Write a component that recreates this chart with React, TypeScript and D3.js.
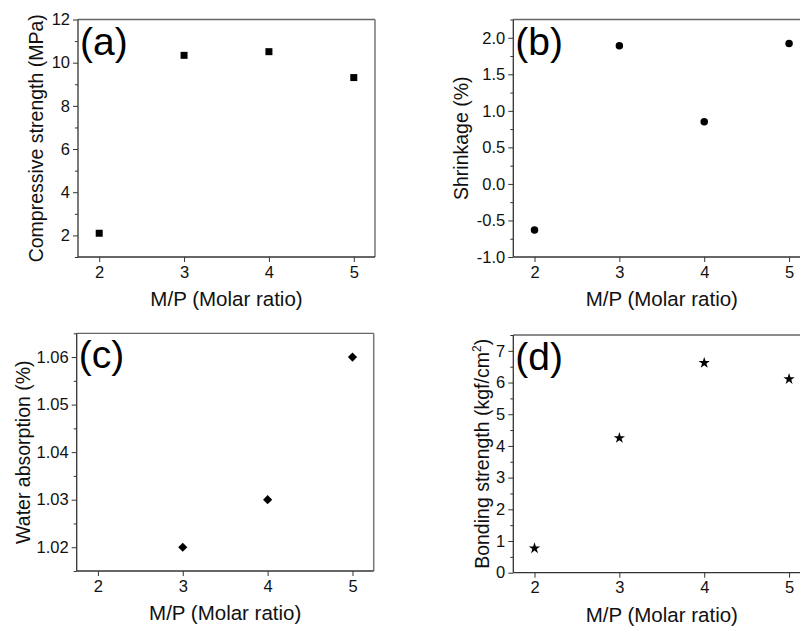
import React, { useEffect, useRef } from "react";
import * as d3 from "d3";

// M/P molar ratios on the x axis
const ratios = [2, 3, 4, 5];
const xTickLabels = ["2", "3", "4", "5"];

// (a) compressive strength, MPa
const compressive = [2.1, 10.34, 10.51, 9.31];
// (b) shrinkage, %
const shrinkage = [-0.63, 1.89, 0.85, 1.92];
// (c) water absorption, % (no sample at ratio 2)
const waterRatios = [3, 4, 5];
const waterAbsorption = [1.02, 1.03, 1.06];
// (d) bonding strength, kgf/cm2
const bonding = [0.77, 4.25, 6.62, 6.11];

const FONT = "'Liberation Sans', Arial, sans-serif";

// Origin prints a plain hyphen for negatives
const fmtWith = (spec) => {
  const f = d3.format(spec);
  return (d) => f(d).replace("\u2212", "-");
};

const App = () => {
  const ref = useRef(null);

  useEffect(() => {
    const svg = d3.select(ref.current);
    svg.selectAll("*").remove();

    const panels = [
      {
        tag: "(a)", left: 78, top: 19.5, bottom: 257, labelX: 43,
        xs: ratios, ys: compressive, yDomain: [1, 12],
        major: d3.range(2, 12.01, 2), minor: d3.range(1, 12, 2), fmt: fmtWith("d"),
        symbol: d3.symbolSquare, size: 49, rotate: 0,
        yLabel: ["Compressive strength (MPa)"],
      },
      {
        tag: "(b)", left: 513.3, top: 19.5, bottom: 257, labelX: 468,
        xs: ratios, ys: shrinkage, yDomain: [-1, 2.25],
        major: d3.range(-1, 2.01, 0.5), minor: d3.range(-0.75, 2.3, 0.5), fmt: fmtWith(".1f"),
        symbol: d3.symbolCircle, size: 44, rotate: 0,
        yLabel: ["Shrinkage (%)"],
      },
      {
        tag: "(c)", left: 76.7, top: 333.3, bottom: 571, labelX: 30,
        xs: waterRatios, ys: waterAbsorption, yDomain: [1.015, 1.065],
        major: d3.range(1.02, 1.0601, 0.01), minor: d3.range(1.015, 1.066, 0.01), fmt: fmtWith(".2f"),
        symbol: d3.symbolSquare, size: 42, rotate: 45,
        yLabel: ["Water absorption (%)"],
      },
      {
        tag: "(d)", left: 513.3, top: 335, bottom: 572.7, labelX: 489,
        xs: ratios, ys: bonding, yDomain: [0, 7.5],
        major: d3.range(0, 7.01, 1), minor: d3.range(0.5, 7.6, 1), fmt: fmtWith("d"),
        symbol: d3.symbolStar, size: 40, rotate: 0,
        yLabel: ["Bonding strength (kgf/cm", "2", ")"],
      },
    ];

    panels.forEach((p) => {
      const width = 297;
      const right = p.left + width;
      const x = d3.scaleLinear().domain([1.75, 5.25]).range([p.left, right]);
      const y = d3.scaleLinear().domain(p.yDomain).range([p.bottom, p.top]);
      const g = svg.append("g");

      // minor y ticks
      g.append("g")
        .attr("transform", `translate(${p.left},0)`)
        .call(d3.axisLeft(y).tickValues(p.minor).tickSize(3).tickSizeOuter(0).tickFormat(() => ""))
        .call((a) => a.select(".domain").remove())
        .selectAll("line").attr("stroke", "#333");

      // major y ticks
      const ya = g.append("g")
        .attr("transform", `translate(${p.left},0)`)
        .call(d3.axisLeft(y).tickValues(p.major).tickSize(5).tickPadding(3).tickSizeOuter(0).tickFormat(p.fmt));
      ya.select(".domain").remove();
      ya.selectAll("line").attr("stroke", "#333");
      ya.selectAll("text").attr("font-family", FONT).attr("font-size", 16.5).attr("fill", "#111");

      // x ticks
      const xa = g.append("g")
        .attr("transform", `translate(0,${p.bottom})`)
        .call(d3.axisBottom(x).tickValues(ratios).tickSize(5).tickPadding(4).tickSizeOuter(0)
          .tickFormat((d, i) => xTickLabels[i]));
      xa.select(".domain").remove();
      xa.selectAll("line").attr("stroke", "#333");
      xa.selectAll("text").attr("font-family", FONT).attr("font-size", 16.5).attr("fill", "#111");

      // frame
      g.append("line").attr("x1", p.left).attr("x2", right).attr("y1", p.top).attr("y2", p.top)
        .attr("stroke", "#666").attr("stroke-width", 1.3);
      g.append("line").attr("x1", right).attr("x2", right).attr("y1", p.top).attr("y2", p.bottom)
        .attr("stroke", "#777").attr("stroke-width", 1.5);
      g.append("line").attr("x1", p.left).attr("x2", p.left).attr("y1", p.top).attr("y2", p.bottom)
        .attr("stroke", "#333").attr("stroke-width", 1.3);
      g.append("line").attr("x1", p.left).attr("x2", right).attr("y1", p.bottom).attr("y2", p.bottom)
        .attr("stroke", "#333").attr("stroke-width", 1.3);

      // points
      const sym = d3.symbol().type(p.symbol).size(p.size);
      g.selectAll(".pt")
        .data(p.xs.map((v, i) => [v, p.ys[i]]))
        .enter()
        .append("path")
        .attr("class", "pt")
        .attr("d", sym)
        .attr("transform", (d) => `translate(${x(d[0])},${y(d[1])}) rotate(${p.rotate})`)
        .attr("fill", "#000");

      // panel tag
      g.append("text")
        .attr("x", p.left + 2)
        .attr("y", p.top + 35)
        .attr("font-family", FONT)
        .attr("font-size", 39)
        .attr("fill", "#000")
        .text(p.tag);

      // axis titles
      g.append("text")
        .attr("x", p.left + width / 2)
        .attr("y", p.bottom + 49)
        .attr("text-anchor", "middle")
        .attr("font-family", FONT)
        .attr("font-size", 20.5)
        .attr("fill", "#111")
        .text("M/P (Molar ratio)");

      const yt = g.append("text")
        .attr("transform", `translate(${p.labelX},${(p.top + p.bottom) / 2}) rotate(-90)`)
        .attr("text-anchor", "middle")
        .attr("font-family", FONT)
        .attr("font-size", 19.5)
        .attr("fill", "#111");
      yt.append("tspan").text(p.yLabel[0]);
      if (p.yLabel.length > 1) {
        yt.append("tspan").attr("font-size", 12).attr("dy", -8).text(p.yLabel[1]);
        yt.append("tspan").attr("dy", 8).text(p.yLabel[2]);
      }
    });
  }, []);

  return (
    <svg
      ref={ref}
      width={800}
      height={626}
      style={{ position: "absolute", left: 0, top: 0, background: "#fff" }}
    />
  );
};

export default App;
